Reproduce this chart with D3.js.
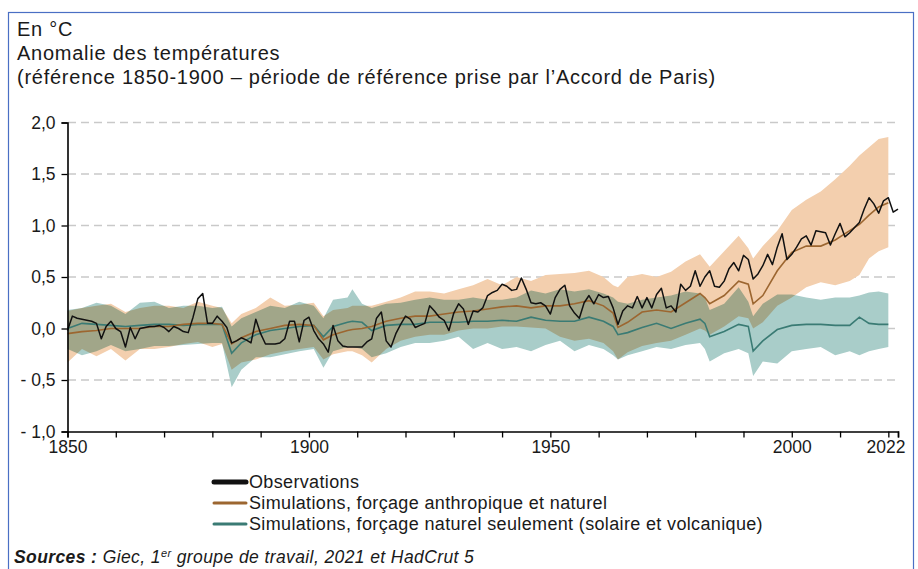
<!DOCTYPE html>
<html>
<head>
<meta charset="utf-8">
<script src="https://cdn.jsdelivr.net/npm/d3@7"></script>
<style>
  body { margin: 0; background: #fff; }
  svg text { font-family: "Liberation Sans", Arial, sans-serif; fill: #1a1a1a; }
</style>
</head>
<body>
<div id="chart"></div>
<script>
// observations (HadCrut 5), annual, 1850-2022
var obsStart = 1850;
var obsValues = [
  -0.02, 0.12, 0.10, 0.09, 0.08, 0.07, 0.05, -0.10, 0.02, 0.07,
  0.00, -0.03, -0.18, 0.01, -0.10, 0.00, 0.01, 0.02, 0.02, 0.03,
  0.01, -0.03, 0.02, 0.00, -0.03, -0.04, 0.11, 0.29, 0.34, 0.05,
  0.05, 0.12, 0.07, 0.01, -0.14, -0.12, -0.09, -0.11, -0.14, 0.09,
  -0.05, -0.15, -0.15, -0.15, -0.14, -0.10, 0.07, 0.07, -0.13, 0.08,
  0.11, -0.02, -0.10, -0.15, -0.23, 0.03, -0.12, -0.17, -0.18, -0.18,
  -0.18, -0.18, -0.13, -0.10, 0.10, 0.16, -0.12, -0.18, -0.05, 0.04,
  0.12, 0.09, 0.01, 0.03, 0.05, 0.22, 0.17, 0.11, 0.08, -0.02,
  0.15, 0.24, 0.19, 0.04, 0.17, 0.16, 0.20, 0.32, 0.35, 0.37,
  0.43, 0.41, 0.37, 0.38, 0.49, 0.38, 0.25, 0.24, 0.25, 0.22,
  0.14, 0.30, 0.38, 0.42, 0.22, 0.15, 0.10, 0.25, 0.32, 0.24,
  0.33, 0.30, 0.31, 0.20, 0.04, 0.17, 0.22, 0.20, 0.31, 0.20,
  0.30, 0.20, 0.33, 0.39, 0.20, 0.22, 0.16, 0.43, 0.37, 0.41,
  0.56, 0.41, 0.50, 0.56, 0.41, 0.40, 0.46, 0.58, 0.64, 0.56,
  0.71, 0.67, 0.48, 0.53, 0.61, 0.72, 0.62, 0.79, 0.92, 0.67,
  0.72, 0.79, 0.87, 0.90, 0.81, 0.95, 0.94, 0.93, 0.81, 0.92,
  1.02, 0.89, 0.93, 0.98, 1.03, 1.16, 1.27, 1.21, 1.12, 1.24,
  1.27, 1.13, 1.16
];

// simulations (median and 5-95 % range)
var simYears = [1850, 1853, 1856, 1859, 1862, 1865, 1868, 1871, 1874, 1877,
  1880, 1882, 1884, 1886, 1889, 1892, 1895, 1898, 1901, 1903,
  1905, 1908, 1909, 1911, 1913, 1916, 1919, 1922, 1925, 1928,
  1931, 1934, 1937, 1940, 1943, 1946, 1949, 1952, 1955, 1958,
  1961, 1963, 1964, 1966, 1969, 1972, 1975, 1978, 1981, 1982,
  1983, 1986, 1989, 1991, 1992, 1994, 1997, 2000, 2003, 2006,
  2009, 2012, 2014, 2016, 2018, 2020];

var antMid = [-0.05, -0.03, -0.02, 0.00, 0.00, 0.00, 0.02, 0.02, 0.04, 0.05,
  0.05, 0.04, -0.15, -0.09, -0.03, 0.00, 0.03, 0.04, 0.03, -0.11,
  -0.06, -0.02, -0.01, 0.00, 0.02, 0.07, 0.10, 0.12, 0.12, 0.14,
  0.16, 0.17, 0.19, 0.21, 0.22, 0.20, 0.22, 0.22, 0.24, 0.27,
  0.22, 0.15, 0.01, 0.06, 0.16, 0.18, 0.16, 0.25, 0.34, 0.30,
  0.24, 0.32, 0.46, 0.43, 0.24, 0.32, 0.56, 0.74, 0.80, 0.80,
  0.86, 0.95, 1.01, 1.10, 1.18, 1.22];
var antLow = [-0.33, -0.20, -0.27, -0.20, -0.31, -0.20, -0.20, -0.18, -0.15, -0.13,
  -0.18, -0.15, -0.40, -0.33, -0.30, -0.25, -0.22, -0.20, -0.18, -0.30,
  -0.25, -0.22, -0.22, -0.26, -0.33, -0.20, -0.12, -0.08, -0.06, -0.06,
  -0.02, 0.00, 0.00, 0.02, 0.02, 0.01, 0.00, -0.08, -0.12, -0.10,
  -0.14, -0.22, -0.30, -0.23, -0.17, -0.14, -0.12, -0.06, 0.00, -0.02,
  -0.06, 0.02, 0.12, 0.10, 0.00, 0.06, 0.22, 0.30, 0.40, 0.45,
  0.42, 0.46, 0.52, 0.68, 0.75, 0.79];
var antHigh = [0.17, 0.20, 0.22, 0.24, 0.16, 0.20, 0.22, 0.22, 0.20, 0.26,
  0.22, 0.20, 0.05, 0.14, 0.20, 0.30, 0.22, 0.23, 0.25, 0.12,
  0.18, 0.20, 0.22, 0.22, 0.22, 0.26, 0.30, 0.36, 0.36, 0.34,
  0.38, 0.42, 0.48, 0.42, 0.50, 0.46, 0.52, 0.53, 0.54, 0.56,
  0.50, 0.42, 0.40, 0.50, 0.53, 0.50, 0.55, 0.65, 0.72, 0.66,
  0.60, 0.75, 0.90, 0.78, 0.68, 0.80, 0.95, 1.15, 1.25, 1.33,
  1.45, 1.58, 1.68, 1.76, 1.84, 1.86];

var natMid = [0.00, 0.05, 0.04, 0.03, 0.02, 0.03, 0.04, 0.04, 0.03, 0.04,
  0.04, 0.04, -0.24, -0.14, -0.06, -0.02, 0.00, 0.02, 0.03, -0.08,
  0.02, 0.06, 0.07, 0.06, -0.02, 0.03, 0.04, 0.04, 0.06, 0.06,
  0.06, 0.07, 0.07, 0.08, 0.07, 0.11, 0.08, 0.07, 0.07, 0.11,
  0.07, 0.02, -0.06, -0.04, 0.01, 0.05, 0.00, 0.05, 0.09, 0.05,
  -0.08, -0.03, 0.04, 0.02, -0.22, -0.12, -0.01, 0.03, 0.04, 0.04,
  0.03, 0.03, 0.11, 0.05, 0.04, 0.04];
var natLow = [-0.20, -0.26, -0.22, -0.16, -0.22, -0.20, -0.17, -0.17, -0.16, -0.15,
  -0.14, -0.14, -0.57, -0.40, -0.28, -0.28, -0.25, -0.22, -0.20, -0.38,
  -0.22, -0.18, -0.18, -0.20, -0.28, -0.24, -0.18, -0.14, -0.14, -0.12,
  -0.08, -0.20, -0.14, -0.20, -0.18, -0.22, -0.16, -0.12, -0.22, -0.16,
  -0.20, -0.26, -0.30, -0.26, -0.22, -0.18, -0.20, -0.16, -0.14, -0.20,
  -0.32, -0.24, -0.20, -0.24, -0.46, -0.32, -0.34, -0.22, -0.20, -0.18,
  -0.26, -0.22, -0.26, -0.22, -0.20, -0.18];
var natHigh = [0.18, 0.20, 0.25, 0.22, 0.14, 0.25, 0.26, 0.20, 0.22, 0.22,
  0.20, 0.21, 0.02, 0.10, 0.16, 0.22, 0.20, 0.26, 0.22, 0.10,
  0.28, 0.30, 0.38, 0.24, 0.20, 0.24, 0.25, 0.28, 0.30, 0.28,
  0.28, 0.30, 0.28, 0.28, 0.30, 0.37, 0.34, 0.38, 0.36, 0.38,
  0.34, 0.30, 0.26, 0.24, 0.28, 0.30, 0.32, 0.36, 0.34, 0.30,
  0.18, 0.24, 0.40, 0.26, 0.12, 0.24, 0.33, 0.33, 0.30, 0.28,
  0.30, 0.30, 0.32, 0.35, 0.36, 0.34];

var yTicks = [2, 1.5, 1, 0.5, 0, -0.5, -1];
var yLabels = ['2,0', '1,5', '1,0', '0,5', '0,0', '- 0,5', '- 1,0'];
var xTicks = [1850, 1860, 1870, 1880, 1890, 1900, 1910, 1920, 1930, 1940, 1950,
  1960, 1970, 1980, 1990, 2000, 2010, 2020, 2022];
var xLabels = [1850, 1900, 1950, 2000, 2022];

var legendItems = [
  {label: 'Observations', color: '#111111', width: 5},
  {label: 'Simulations, forçage anthropique et naturel', color: '#9c6630', width: 3},
  {label: 'Simulations, forçage naturel seulement (solaire et volcanique)', color: '#3a7b74', width: 3}
];

var width = 918,
  height = 569;

var svg = d3.select('#chart')
  .append('svg')
  .attr('width', width)
  .attr('height', height);

// frame
svg.append('rect')
  .attr('x', 8.5)
  .attr('y', 12.5)
  .attr('width', 905)
  .attr('height', 570)
  .attr('fill', 'none')
  .attr('stroke', '#4a6fc4')
  .attr('stroke-width', 1.2);

// titles
var titles = ['En °C', 'Anomalie des températures',
  '(référence 1850-1900 – période de référence prise par l\u2019Accord de Paris)'];
titles.forEach(function(t, i) {
  svg.append('text')
    .attr('x', 17)
    .attr('y', 36 + i * 24)
    .attr('font-size', 20)
    .attr('letter-spacing', 0.75)
    .text(t);
});

var x = d3.scaleLinear().domain([1850, 2022]).range([67.5, 898]);
var y = d3.scaleLinear().domain([-1, 2]).range([431.5, 122.5]);

// grid
svg.append('g')
  .selectAll('line')
  .data(yTicks.filter(function(d) { return d > -1; }))
  .enter()
  .append('line')
  .attr('x1', 68).attr('x2', 898)
  .attr('y1', function(d) { return y(d); })
  .attr('y2', function(d) { return y(d); })
  .attr('stroke', '#c9c9c9')
  .attr('stroke-width', 1.3)
  .attr('stroke-dasharray', '8,5');

// bands
var simData = simYears.map(function(yr, i) {
  return {year: yr, am: antMid[i], al: antLow[i], ah: antHigh[i],
    nm: natMid[i], nl: natLow[i], nh: natHigh[i]};
});

var antArea = d3.area()
  .x(function(d) { return x(d.year); })
  .y0(function(d) { return y(d.al); })
  .y1(function(d) { return y(d.ah); });
var natArea = d3.area()
  .x(function(d) { return x(d.year); })
  .y0(function(d) { return y(d.nl); })
  .y1(function(d) { return y(d.nh); });

var bands = svg.append('g').style('isolation', 'isolate');
bands.append('path')
  .attr('d', antArea(simData))
  .attr('fill', '#f3cfae');
bands.append('path')
  .attr('d', natArea(simData))
  .attr('fill', '#a9cdc9')
  .style('mix-blend-mode', 'multiply');

var antLine = d3.line()
  .x(function(d) { return x(d.year); })
  .y(function(d) { return y(d.am); });
var natLine = d3.line()
  .x(function(d) { return x(d.year); })
  .y(function(d) { return y(d.nm); });

svg.append('path')
  .attr('d', natLine(simData))
  .attr('fill', 'none')
  .attr('stroke', '#3a7b74')
  .attr('stroke-width', 1.6);
svg.append('path')
  .attr('d', antLine(simData))
  .attr('fill', 'none')
  .attr('stroke', '#9c6630')
  .attr('stroke-width', 1.6);

var obsLine = d3.line()
  .x(function(d, i) { return x(obsStart + i); })
  .y(function(d) { return y(d); });

svg.append('path')
  .attr('d', obsLine(obsValues))
  .attr('fill', 'none')
  .attr('stroke', '#111111')
  .attr('stroke-width', 1.5)
  .attr('stroke-linejoin', 'round');

// axes
var yAxis = d3.axisLeft(y)
  .tickValues(yTicks)
  .tickSize(6)
  .tickFormat(function(d, i) { return yLabels[i]; });
var gy = svg.append('g')
  .attr('transform', 'translate(67.5,0)')
  .call(yAxis);
gy.select('.domain').attr('stroke', '#000').attr('stroke-width', 1.6);
gy.selectAll('.tick line').attr('stroke', '#000').attr('stroke-width', 1.3);
gy.selectAll('.tick text')
  .attr('font-size', 17.5)
  .attr('font-family', '"Liberation Sans", Arial, sans-serif')
  .attr('fill', '#111')
  .attr('x', -12);

var xAxis = d3.axisBottom(x)
  .tickValues(xTicks)
  .tickSize(6)
  .tickFormat(function(d) { return xLabels.indexOf(d) >= 0 ? String(d) : ''; });
var gx = svg.append('g')
  .attr('transform', 'translate(0,431.5)')
  .call(xAxis);
gx.select('.domain').attr('stroke', '#000').attr('stroke-width', 1.6);
gx.selectAll('.tick line').attr('stroke', '#000').attr('stroke-width', 1.3);
gx.selectAll('.tick text')
  .attr('font-size', 17.5)
  .attr('font-family', '"Liberation Sans", Arial, sans-serif')
  .attr('fill', '#111')
  .attr('y', 9)
  .attr('text-anchor', function(d) { return d === 2022 ? 'end' : 'middle'; })
  .attr('dx', function(d) { return d === 2022 ? 7 : 0; });

// legend
var legend = svg.append('g');
legendItems.forEach(function(item, i) {
  var ly = 482 + i * 21;
  legend.append('line')
    .attr('x1', 214).attr('x2', 246)
    .attr('y1', ly).attr('y2', ly)
    .attr('stroke', item.color)
    .attr('stroke-width', item.width)
    .attr('stroke-linecap', 'round');
  legend.append('text')
    .attr('x', 249).attr('y', ly + 6)
    .attr('font-size', 18)
    .attr('letter-spacing', 0.35)
    .text(item.label);
});

// sources
var src = svg.append('text')
  .attr('x', 14).attr('y', 563)
  .attr('font-size', 17.5)
  .attr('letter-spacing', 0.4)
  .attr('font-style', 'italic');
src.append('tspan').attr('font-weight', 'bold').text('Sources : ');
src.append('tspan').text('Giec, 1');
src.append('tspan').attr('font-size', 11).attr('dy', -6).text('er');
src.append('tspan').attr('dy', 6).text(' groupe de travail, 2021 et HadCrut 5');
</script>
</body>
</html>
